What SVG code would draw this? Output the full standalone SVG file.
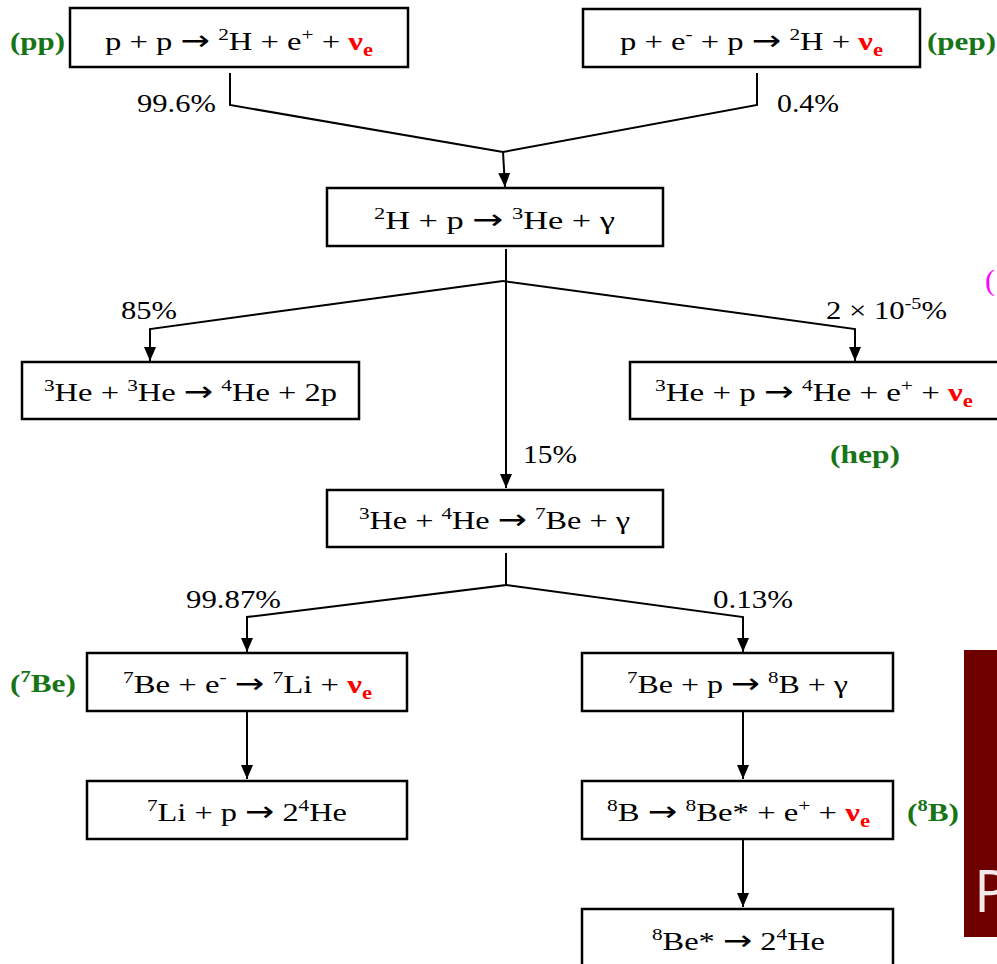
<svg xmlns="http://www.w3.org/2000/svg" width="997" height="964" viewBox="0 0 997 964">
<style>
.box{fill:#fff;stroke:#000;stroke-width:2.5}
.t{font-family:"Liberation Serif","Times New Roman",serif;font-size:26px;fill:#000}
.lbl{font-family:"Liberation Serif","Times New Roman",serif;font-size:26px;fill:#000}
.g{font-family:"Liberation Serif","Times New Roman",serif;font-size:26px;font-weight:bold;fill:#177417}
.sup{font-size:17px}
.ar{font-family:"DejaVu Sans",sans-serif;font-size:28px}
.nu{fill:#ff0000;font-weight:bold}
.nus{fill:#ff0000;font-weight:bold;font-size:18px}
.conn{fill:none;stroke:#000;stroke-width:2}
</style>
<defs>
<marker id="ah" viewBox="0 0 14 12" refX="14" refY="6" markerWidth="14" markerHeight="12" orient="auto" markerUnits="userSpaceOnUse">
<path d="M0,0 L14,6 L0,12 z" fill="#000"/>
</marker>
</defs>
<rect x="0" y="0" width="997" height="964" fill="#fff"/>
<g id="connectors">
<path class="conn" d="M230,73 V105 L503,152"/>
<path class="conn" d="M757,73 V105 L503,152"/>
<path class="conn" d="M503,152 L505,187" marker-end="url(#ah)"/>
<path class="conn" d="M506,249 V488" stroke-width="1.6" marker-end="url(#ah)"/>
<path class="conn" d="M503,281 L150,329 V361" marker-end="url(#ah)"/>
<path class="conn" d="M503,281 L855,329 V361" marker-end="url(#ah)"/>
<path class="conn" d="M506,553 V585 L247,617 V652" marker-end="url(#ah)"/>
<path class="conn" d="M506,585 L743,617 V652" marker-end="url(#ah)"/>
<path class="conn" d="M247,711 V779" marker-end="url(#ah)"/>
<path class="conn" d="M743,711 V779" marker-end="url(#ah)"/>
<path class="conn" d="M743,839 V907" marker-end="url(#ah)"/>
</g>
<g id="pp">
<rect class="box" x="70" y="8" width="338" height="59"/>
<text class="t" x="105" y="50" textLength="268" lengthAdjust="spacingAndGlyphs">p + p <tspan class="ar">→</tspan> <tspan class="sup" dy="-10">2</tspan><tspan dy="10">H + e</tspan><tspan class="sup" dy="-10">+</tspan><tspan dy="10"> + </tspan><tspan class="nu">ν</tspan><tspan class="nus" dy="6">e</tspan></text>
<text class="g" x="10" y="50" textLength="55" lengthAdjust="spacingAndGlyphs">(pp)</text>
</g>
<g id="pep">
<rect class="box" x="583" y="9" width="337" height="58"/>
<text class="t" x="620" y="50" textLength="263" lengthAdjust="spacingAndGlyphs">p + e<tspan class="sup" dy="-10">-</tspan><tspan dy="10"> + p </tspan><tspan class="ar">→</tspan> <tspan class="sup" dy="-10">2</tspan><tspan dy="10">H + </tspan><tspan class="nu">ν</tspan><tspan class="nus" dy="6">e</tspan></text>
<text class="g" x="927" y="50" textLength="69" lengthAdjust="spacingAndGlyphs">(pep)</text>
</g>
<g id="labels-top">
<text class="lbl" x="137" y="112" textLength="79" lengthAdjust="spacingAndGlyphs">99.6%</text>
<text class="lbl" x="777" y="112" textLength="62" lengthAdjust="spacingAndGlyphs">0.4%</text>
</g>
<g id="dp">
<rect class="box" x="327" y="188" width="336" height="58"/>
<text class="t" x="374" y="229" textLength="241" lengthAdjust="spacingAndGlyphs"><tspan class="sup" dy="-10">2</tspan><tspan dy="10">H + p </tspan><tspan class="ar">→</tspan> <tspan class="sup" dy="-10">3</tspan><tspan dy="10">He +  γ</tspan></text>
</g>
<text x="985" y="290" font-family="Liberation Serif, serif" font-size="30" fill="#ff00ff">(</text>
<g id="he3he3">
<rect class="box" x="22" y="362" width="337" height="57"/>
<text class="t" x="44" y="401" textLength="293" lengthAdjust="spacingAndGlyphs"><tspan class="sup" dy="-10">3</tspan><tspan dy="10">He + </tspan><tspan class="sup" dy="-10">3</tspan><tspan dy="10">He </tspan><tspan class="ar">→</tspan> <tspan class="sup" dy="-10">4</tspan><tspan dy="10">He + 2p</tspan></text>
<text class="lbl" x="121" y="319" textLength="56" lengthAdjust="spacingAndGlyphs">85%</text>
</g>
<g id="hep">
<rect class="box" x="630" y="362" width="390" height="57"/>
<text class="t" x="655" y="401" textLength="318" lengthAdjust="spacingAndGlyphs"><tspan class="sup" dy="-10">3</tspan><tspan dy="10">He + p </tspan><tspan class="ar">→</tspan> <tspan class="sup" dy="-10">4</tspan><tspan dy="10">He + e</tspan><tspan class="sup" dy="-10">+</tspan><tspan dy="10"> + </tspan><tspan class="nu">ν</tspan><tspan class="nus" dy="6">e</tspan></text>
<text class="lbl" x="826" y="319" textLength="121" lengthAdjust="spacingAndGlyphs">2 × 10<tspan class="sup" dy="-10">-5</tspan><tspan dy="10">%</tspan></text>
<text class="g" x="830" y="463" textLength="70" lengthAdjust="spacingAndGlyphs">(hep)</text>
</g>
<text class="lbl" x="523" y="463" textLength="54" lengthAdjust="spacingAndGlyphs">15%</text>
<g id="he3he4">
<rect class="box" x="327" y="490" width="336" height="57"/>
<text class="t" x="359" y="529" textLength="271" lengthAdjust="spacingAndGlyphs"><tspan class="sup" dy="-10">3</tspan><tspan dy="10">He + </tspan><tspan class="sup" dy="-10">4</tspan><tspan dy="10">He </tspan><tspan class="ar">→</tspan> <tspan class="sup" dy="-10">7</tspan><tspan dy="10">Be + γ</tspan></text>
</g>
<g id="labels-mid">
<text class="lbl" x="186" y="608" textLength="95" lengthAdjust="spacingAndGlyphs">99.87%</text>
<text class="lbl" x="713" y="608" textLength="80" lengthAdjust="spacingAndGlyphs">0.13%</text>
</g>
<g id="be7e">
<rect class="box" x="87" y="653" width="320" height="58"/>
<text class="t" x="123" y="693" textLength="249" lengthAdjust="spacingAndGlyphs"><tspan class="sup" dy="-10">7</tspan><tspan dy="10">Be + e</tspan><tspan class="sup" dy="-10">-</tspan><tspan dy="10"> </tspan><tspan class="ar">→</tspan> <tspan class="sup" dy="-10">7</tspan><tspan dy="10">Li + </tspan><tspan class="nu">ν</tspan><tspan class="nus" dy="6">e</tspan></text>
<text class="g" x="10" y="692" textLength="66" lengthAdjust="spacingAndGlyphs">(<tspan class="sup" dy="-10">7</tspan><tspan dy="10">Be)</tspan></text>
</g>
<g id="li7p">
<rect class="box" x="87" y="781" width="320" height="58"/>
<text class="t" x="147" y="821" textLength="200" lengthAdjust="spacingAndGlyphs"><tspan class="sup" dy="-10">7</tspan><tspan dy="10">Li + p </tspan><tspan class="ar">→</tspan> 2<tspan class="sup" dy="-10">4</tspan><tspan dy="10">He</tspan></text>
</g>
<g id="be7p">
<rect class="box" x="582" y="653" width="311" height="58"/>
<text class="t" x="627" y="693" textLength="221" lengthAdjust="spacingAndGlyphs"><tspan class="sup" dy="-10">7</tspan><tspan dy="10">Be + p </tspan><tspan class="ar">→</tspan> <tspan class="sup" dy="-10">8</tspan><tspan dy="10">B + γ</tspan></text>
</g>
<g id="b8">
<rect class="box" x="582" y="781" width="311" height="58"/>
<text class="t" x="607" y="821" textLength="263" lengthAdjust="spacingAndGlyphs"><tspan class="sup" dy="-10">8</tspan><tspan dy="10">B </tspan><tspan class="ar">→</tspan> <tspan class="sup" dy="-10">8</tspan><tspan dy="10">Be* + e</tspan><tspan class="sup" dy="-10">+</tspan><tspan dy="10"> + </tspan><tspan class="nu">ν</tspan><tspan class="nus" dy="6">e</tspan></text>
<text class="g" x="907" y="821" textLength="52" lengthAdjust="spacingAndGlyphs">(<tspan class="sup" dy="-10">8</tspan><tspan dy="10">B)</tspan></text>
</g>
<g id="be8">
<rect class="box" x="582" y="909" width="311" height="70"/>
<text class="t" x="652" y="950" textLength="173" lengthAdjust="spacingAndGlyphs"><tspan class="sup" dy="-10">8</tspan><tspan dy="10">Be* </tspan><tspan class="ar">→</tspan> 2<tspan class="sup" dy="-10">4</tspan><tspan dy="10">He</tspan></text>
</g>
<g id="corner">
<rect x="964" y="650" width="40" height="287" fill="#6e0000"/>
<text x="974" y="912" font-family="Open Sans, sans-serif" font-size="58" fill="#f4e8e8">P</text>
</g>
</svg>
